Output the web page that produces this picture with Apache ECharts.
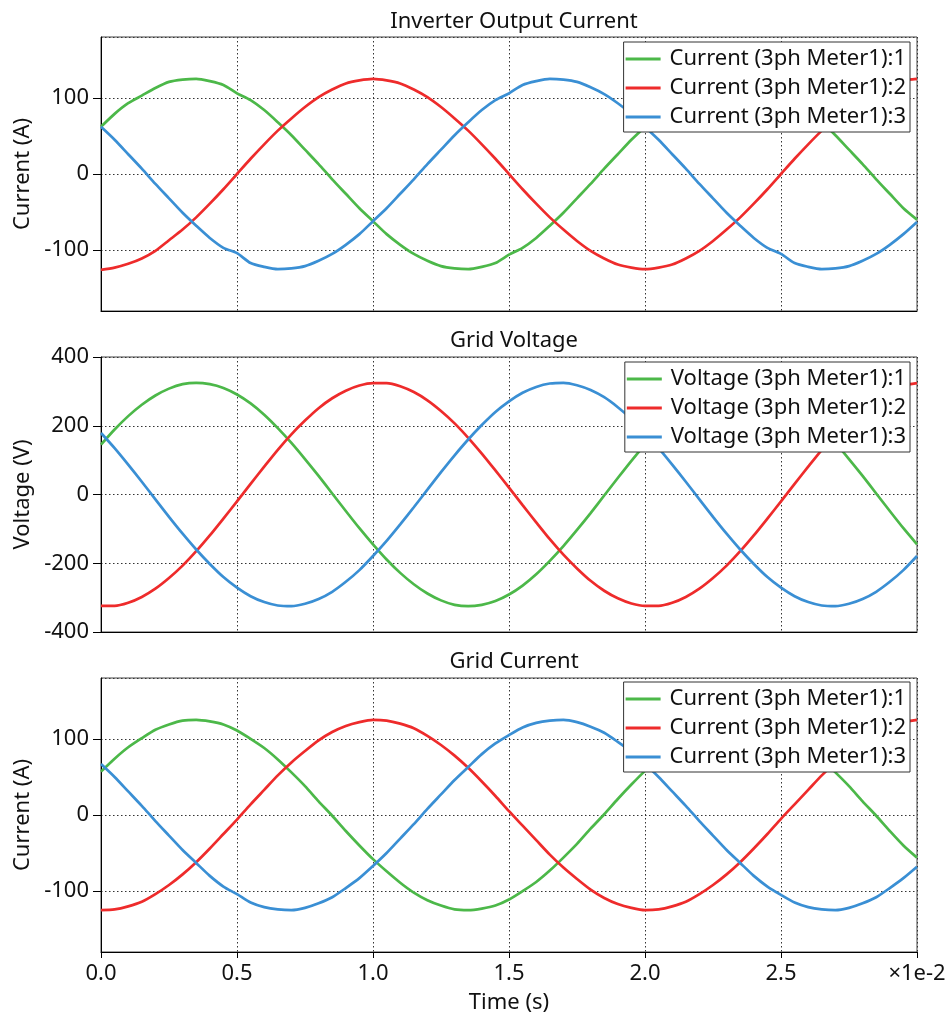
<!DOCTYPE html>
<html>
<head>
<meta charset="utf-8">
<title>3ph Meter</title>
<script src="https://cdn.jsdelivr.net/npm/echarts@6/dist/echarts.min.js"></script>
<style>
html, body { margin: 0; padding: 0; background: #fff; }
#main { width: 952px; height: 1023px; }
</style>
</head>
<body>
<div id="main"></div>
<script>
// sample times (s), read every 0.5 ms
var times = [0, 0.0005, 0.001, 0.0015, 0.002, 0.0025, 0.003, 0.0035, 0.004, 0.0045,
             0.005, 0.0055, 0.006, 0.0065, 0.007, 0.0075, 0.008, 0.0085, 0.009, 0.0095,
             0.010, 0.0105, 0.011, 0.0115, 0.012, 0.0125, 0.013, 0.0135, 0.014, 0.0145,
             0.015, 0.0155, 0.016, 0.0165, 0.017, 0.0175, 0.018, 0.0185, 0.019, 0.0195,
             0.020, 0.0205, 0.021, 0.0215, 0.022, 0.0225, 0.023, 0.0235, 0.024, 0.0245,
             0.025, 0.0255, 0.026, 0.0265, 0.027, 0.0275, 0.028, 0.0285, 0.029, 0.0295, 0.030];

// Inverter Output Current (A)
var invI1 = [62, 79, 93, 103, 113, 121, 124, 125, 122, 117, 106, 97, 84, 68, 51, 32, 13, -7, -26, -45,
             -62, -79, -93, -105, -114, -121, -124, -125, -122, -117, -106, -97, -84, -68, -51, -32, -13, 7, 26, 45,
             62, 79, 93, 105, 114, 121, 124, 125, 122, 117, 107, 97, 84, 68, 51, 32, 13, -7, -26, -45, -60];
var invI2 = [-126, -123, -118, -111, -101, -87, -73, -57, -39, -20, 0, 20, 39, 57, 73, 88, 101, 111, 119, 123,
             125, 123, 119, 111, 101, 88, 73, 57, 39, 20, 0, -20, -39, -57, -73, -88, -101, -111, -119, -123,
             -125, -123, -119, -111, -101, -88, -73, -57, -39, -20, 0, 20, 39, 57, 73, 88, 101, 111, 119, 123, 125];
var invI3 = [62, 45, 26, 7, -13, -32, -51, -68, -84, -97, -104, -117, -122, -125, -124, -121, -114, -105, -93, -79,
             -62, -45, -26, -7, 13, 32, 51, 68, 84, 97, 106, 117, 122, 125, 124, 121, 114, 105, 93, 79,
             62, 45, 26, 7, -13, -32, -51, -68, -84, -97, -105, -117, -122, -125, -124, -121, -114, -105, -93, -79, -63];

// Grid Voltage (V)
var gridV1 = [145, 189, 228, 261, 288, 308, 321, 325, 321, 310, 291, 265, 232, 193, 150, 103, 54, 3, -48, -98,
              -145, -189, -228, -261, -288, -308, -321, -325, -321, -310, -291, -265, -232, -193, -150, -103, -54, -3, 48, 98,
              145, 189, 228, 261, 288, 308, 321, 325, 321, 310, 291, 265, 232, 193, 150, 103, 54, 3, -48, -98, -145];
var gridV2 = [-324, -324, -315, -298, -274, -243, -207, -165, -119, -70, -20, 31, 81, 130, 175, 215, 251, 280, 302, 317,
              324, 324, 315, 298, 274, 243, 207, 165, 119, 70, 20, -31, -81, -130, -175, -215, -251, -280, -302, -317,
              -324, -324, -315, -298, -274, -243, -207, -165, -119, -70, -20, 31, 81, 130, 175, 215, 251, 280, 302, 317, 324];
var gridV3 = [179, 135, 87, 37, -14, -65, -114, -160, -202, -240, -271, -296, -313, -323, -325, -318, -304, -283, -254, -220,
              -179, -135, -87, -37, 14, 65, 114, 160, 202, 240, 271, 296, 313, 323, 325, 318, 304, 283, 254, 220,
              179, 135, 87, 37, -14, -65, -114, -160, -202, -240, -271, -296, -313, -323, -325, -318, -304, -283, -254, -220, -179];

// Grid Current (A)
var gridI1 = [57, 74, 89, 101, 112, 119, 124, 125, 123, 119, 111, 100, 88, 73, 56, 38, 18, -1, -21, -40,
              -58, -74, -89, -102, -112, -119, -124, -125, -123, -119, -111, -100, -88, -73, -56, -38, -18, 1, 21, 40,
              58, 74, 89, 102, 112, 119, 124, 125, 123, 119, 111, 100, 88, 73, 56, 38, 18, -1, -21, -40, -56];
var gridI2 = [-125, -124, -120, -114, -104, -92, -78, -62, -44, -25, -6, 14, 33, 52, 69, 84, 98, 109, 117, 122,
              125, 124, 120, 114, 104, 92, 78, 62, 44, 25, 5, -14, -33, -52, -69, -84, -98, -109, -117, -122,
              -125, -124, -120, -114, -104, -92, -78, -62, -44, -25, -5, 14, 33, 52, 69, 84, 98, 109, 117, 122, 125];
var gridI3 = [67, 50, 31, 12, -8, -27, -46, -63, -80, -94, -104, -115, -121, -124, -125, -122, -116, -108, -96, -83,
              -67, -50, -31, -12, 8, 27, 46, 63, 80, 94, 105, 115, 121, 124, 125, 122, 116, 108, 96, 83,
              67, 50, 31, 12, -8, -27, -46, -63, -80, -94, -105, -115, -121, -124, -125, -122, -116, -108, -96, -83, -68];

var curNames = ['Current (3ph Meter1):1', 'Current (3ph Meter1):2', 'Current (3ph Meter1):3'];
var voltNames = ['Voltage (3ph Meter1):1', 'Voltage (3ph Meter1):2', 'Voltage (3ph Meter1):3'];
var titles = ['Inverter Output Current', 'Grid Voltage', 'Grid Current'];
var colors = ['#4cb849', '#ee2b2b', '#3a8fd4'];

var FONT = 'Noto Sans';
var FS = 22;

function pairs(vals) {
    return times.map(function (t, i) { return [t, vals[i]]; });
}

var gridTops = [37, 357, 678];
var gridH = [274, 275, 274];

var grids = gridTops.map(function (top, i) {
    return {
        left: 101, right: 35, top: top, height: gridH[i],
        show: true, borderColor: '#444', borderWidth: 1,
        outerBoundsMode: 'none', containLabel: false
    };
});

var xAxes = [0, 1, 2].map(function (i) {
    return {
        type: 'value', gridIndex: i, min: 0, max: 0.03, interval: 0.005,
        axisLine: { show: true, onZero: false, lineStyle: { color: '#000', width: 1 } },
        axisTick: { show: i === 2, length: 6, inside: false, lineStyle: { color: '#000' } },
        axisLabel: {
            show: i === 2, fontFamily: FONT, fontSize: FS, color: '#111', margin: 11,
            formatter: function (v) {
                if (v > 0.0299) return '\u00d71e-2';
                return (v * 100).toFixed(1);
            }
        },
        splitLine: { show: true, lineStyle: { color: '#333', type: [1.5, 2.5], width: 1 } },
        name: i === 2 ? 'Time (s)' : '',
        nameLocation: 'middle', nameGap: 40,
        nameTextStyle: { fontFamily: FONT, fontSize: FS, color: '#111' }
    };
});

function yAxis(i, lim, name) {
    return {
        type: 'value', gridIndex: i, min: -lim, max: lim, splitNumber: 4,
        axisLine: { show: true, onZero: false, lineStyle: { color: '#000', width: 1 } },
        axisTick: { show: true, length: 8, lineStyle: { color: '#000' } },
        axisLabel: {
            fontFamily: FONT, fontSize: FS, color: '#111', margin: 12,
            showMinLabel: lim === 400, showMaxLabel: lim === 400
        },
        splitLine: { show: true, lineStyle: { color: '#333', type: [1.5, 2.5], width: 1 } },
        name: name, nameLocation: 'middle', nameGap: 66,
        nameTextStyle: { fontFamily: FONT, fontSize: FS, color: '#111' }
    };
}

var yAxes = [yAxis(0, 180, 'Current (A)'), yAxis(1, 400, 'Voltage (V)'), yAxis(2, 180, 'Current (A)')];

function lineSeries(name, vals, idx, c) {
    return {
        type: 'line', name: name, data: pairs(vals),
        xAxisIndex: idx, yAxisIndex: idx,
        smooth: 0.25, symbol: 'none', showSymbol: false,
        lineStyle: { color: colors[c], width: 2.7 },
        itemStyle: { color: colors[c] }
    };
}

var series = [
    lineSeries(curNames[0], invI1, 0, 0),
    lineSeries(curNames[1], invI2, 0, 1),
    lineSeries(curNames[2], invI3, 0, 2),
    lineSeries(voltNames[0], gridV1, 1, 0),
    lineSeries(voltNames[1], gridV2, 1, 1),
    lineSeries(voltNames[2], gridV3, 1, 2),
    lineSeries(curNames[0], gridI1, 2, 0),
    lineSeries(curNames[1], gridI2, 2, 1),
    lineSeries(curNames[2], gridI3, 2, 2)
];

var legendTops = [42, 362, 682];
var legendData = [curNames, voltNames, curNames];

var legends = legendTops.map(function (top, i) {
    return {
        data: legendData[i], orient: 'vertical', top: top, right: 42,
        backgroundColor: '#fff', borderColor: '#333', borderWidth: 1, borderRadius: 0,
        padding: [6, 4, 4, 2], icon: 'rect', itemWidth: 35, itemHeight: 3, itemGap: 7,
        selectedMode: false,
        textStyle: { fontFamily: FONT, fontSize: FS, color: '#111', lineHeight: 22, padding: [0, 0, 0, 4] }
    };
});

var titleTops = [6, 325, 646];
var titleOpts = titles.map(function (t, i) {
    return {
        text: t, left: 509, top: titleTops[i], textAlign: 'center',
        textStyle: { fontFamily: FONT, fontSize: FS, fontWeight: 'normal', color: '#111' }
    };
});

var chart = echarts.init(document.getElementById('main'));
chart.setOption({
    animation: false,
    backgroundColor: '#fff',
    title: titleOpts,
    legend: legends,
    grid: grids,
    xAxis: xAxes,
    yAxis: yAxes,
    series: series
});
</script>
</body>
</html>
